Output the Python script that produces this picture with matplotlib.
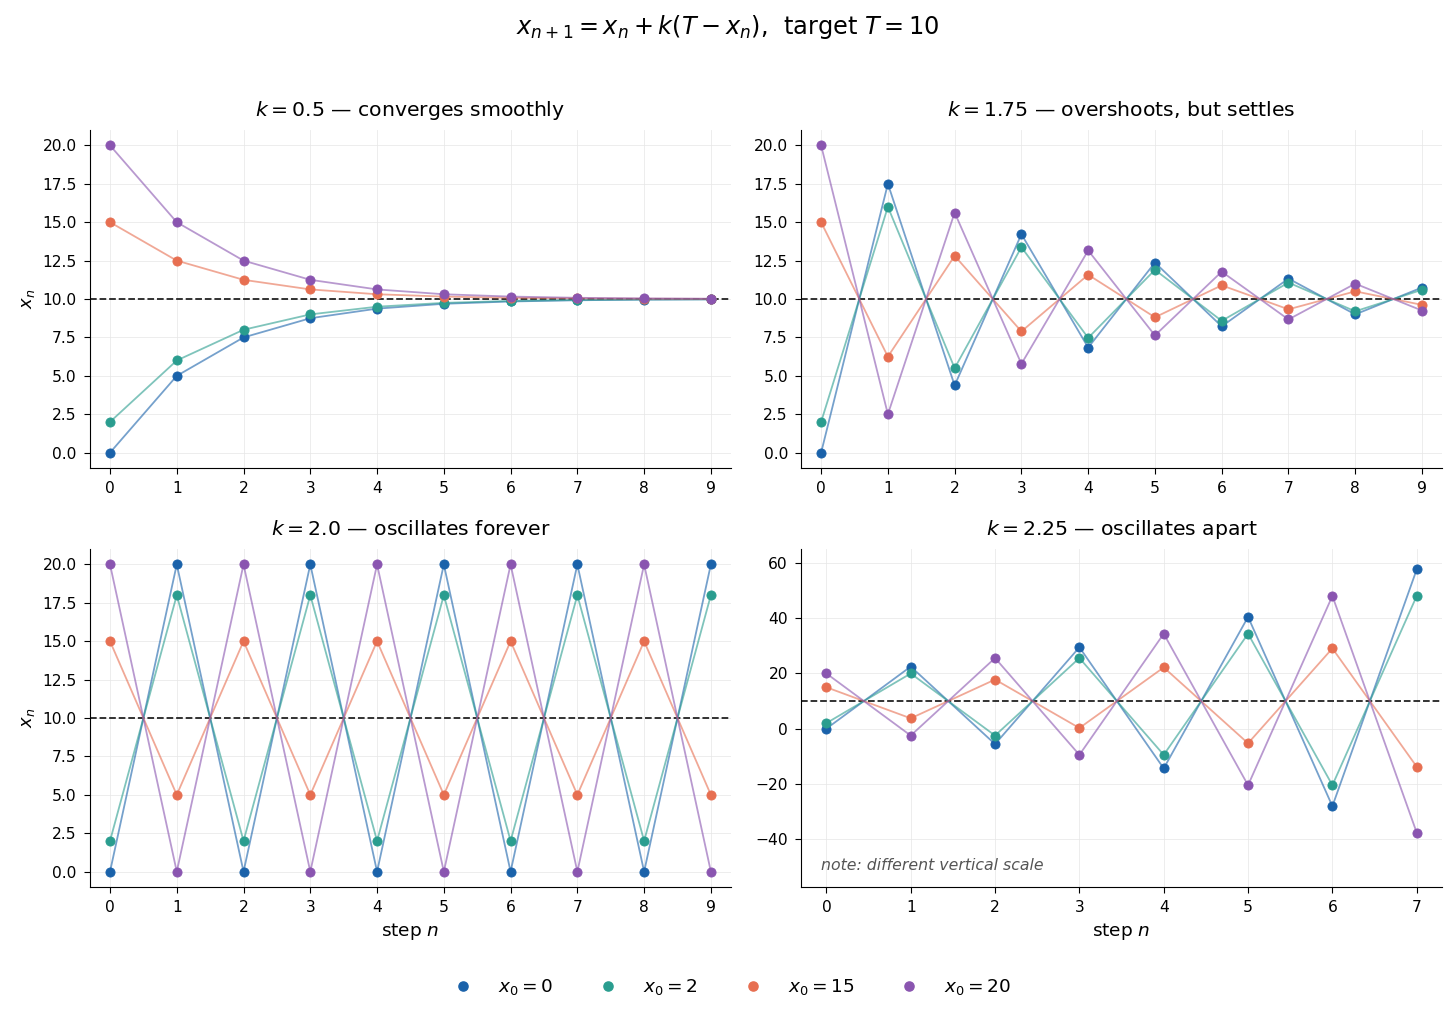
import matplotlib.pyplot as plt
from matplotlib.lines import Line2D

# values of x_n, one list per starting point
steps_a = list(range(10))
steps_d = list(range(8))

k05_x0 = [0, 5, 7.5, 8.75, 9.375, 9.69, 9.84, 9.92, 9.96, 9.98]
k05_x2 = [2, 6, 8, 9, 9.5, 9.75, 9.875, 9.94, 9.97, 9.98]
k05_x15 = [15, 12.5, 11.25, 10.625, 10.31, 10.16, 10.08, 10.04, 10.02, 10.01]
k05_x20 = [20, 15, 12.5, 11.25, 10.625, 10.31, 10.16, 10.08, 10.04, 10.02]

k175_x0 = [0, 17.5, 4.375, 14.22, 6.84, 12.37, 8.22, 11.33, 9.0, 10.75]
k175_x2 = [2, 16, 5.5, 13.375, 7.47, 11.9, 8.58, 11.07, 9.2, 10.6]
k175_x15 = [15, 6.25, 12.81, 7.89, 11.58, 8.81, 10.89, 9.33, 10.5, 9.62]
k175_x20 = [20, 2.5, 15.625, 5.78, 13.16, 7.63, 11.78, 8.67, 11.0, 9.25]

k2_x0 = [0, 20, 0, 20, 0, 20, 0, 20, 0, 20]
k2_x2 = [2, 18, 2, 18, 2, 18, 2, 18, 2, 18]
k2_x15 = [15, 5, 15, 5, 15, 5, 15, 5, 15, 5]
k2_x20 = [20, 0, 20, 0, 20, 0, 20, 0, 20, 0]

k225_x0 = [0, 22.5, -5.6, 29.5, -14.4, 40.5, -28.1, 57.7]
k225_x2 = [2, 20, -2.5, 25.6, -9.5, 34.4, -20.5, 48.1]
k225_x15 = [15, 3.75, 17.8, 0.23, 22.2, -5.3, 29.1, -13.8]
k225_x20 = [20, -2.5, 25.6, -9.5, 34.4, -20.5, 48.1, -37.7]

target = 10
labels = ['$x_0 = 0$', '$x_0 = 2$', '$x_0 = 15$', '$x_0 = 20$']
colors = ['#1a62aa', '#2a9d8f', '#e76f51', '#8a55b0']

panels = [
    ('$k = 0.5$ — converges smoothly', steps_a, [k05_x0, k05_x2, k05_x15, k05_x20]),
    ('$k = 1.75$ — overshoots, but settles', steps_a, [k175_x0, k175_x2, k175_x15, k175_x20]),
    ('$k = 2.0$ — oscillates forever', steps_a, [k2_x0, k2_x2, k2_x15, k2_x20]),
    ('$k = 2.25$ — oscillates apart', steps_d, [k225_x0, k225_x2, k225_x15, k225_x20]),
]

fig = plt.figure(figsize=(14.56, 10.19), dpi=100)
fig.suptitle('$x_{n+1} = x_n + k(T - x_n)$,  target $T = 10$', fontsize=17.3, y=0.987)

boxes = [
    [0.0618, 0.5407, 0.4402, 0.3317],
    [0.5502, 0.5407, 0.4402, 0.3317],
    [0.0618, 0.1295, 0.4402, 0.3317],
    [0.5502, 0.1295, 0.4402, 0.3317],
]

for i, (title, steps, series) in enumerate(panels):
    ax = fig.add_axes(boxes[i])
    for ys, c in zip(series, colors):
        ax.plot(steps, ys, color=c, lw=1.3, alpha=0.6, zorder=2)
        ax.plot(steps, ys, ls='none', marker='o', ms=6.6, color=c,
                mec=c, mew=0.6, zorder=3)
    ax.axhline(target, color='#222222', ls='--', lw=1.3, zorder=1)
    ax.set_title(title, fontsize=14.7, pad=10)
    ax.set_xticks(steps)
    ax.grid(True, color='#e6e6e6', lw=0.7, alpha=0.7)
    ax.set_axisbelow(True)
    ax.spines['top'].set_visible(False)
    ax.spines['right'].set_visible(False)
    ax.tick_params(labelsize=11.2, length=4.5, pad=5)
    ax.set_xlim(-0.3, steps[-1] + 0.3)
    if i < 3:
        ax.set_ylim(-1, 21)
        ax.set_yticks([0, 2.5, 5, 7.5, 10, 12.5, 15, 17.5, 20])
    else:
        ax.set_ylim(-57.4, 65.1)
        ax.set_yticks([-40, -20, 0, 20, 40, 60])
        ax.text(0.031, 0.065, 'note: different vertical scale', transform=ax.transAxes,
                fontsize=11.3, style='italic', color='#555555', va='center')
    if i % 2 == 0:
        ax.set_ylabel('$x_n$', fontsize=13)
    if i >= 2:
        ax.set_xlabel('step $n$', fontsize=13.3)

handles = [Line2D([], [], ls='none', marker='o', ms=6.6, color=c) for c in colors]
fig.legend(handles, labels, loc='center', bbox_to_anchor=(0.5, 0.031), ncol=4,
           frameon=False, fontsize=13.3, columnspacing=1.95, handletextpad=0.9)

plt.savefig('out.png', dpi=100)
